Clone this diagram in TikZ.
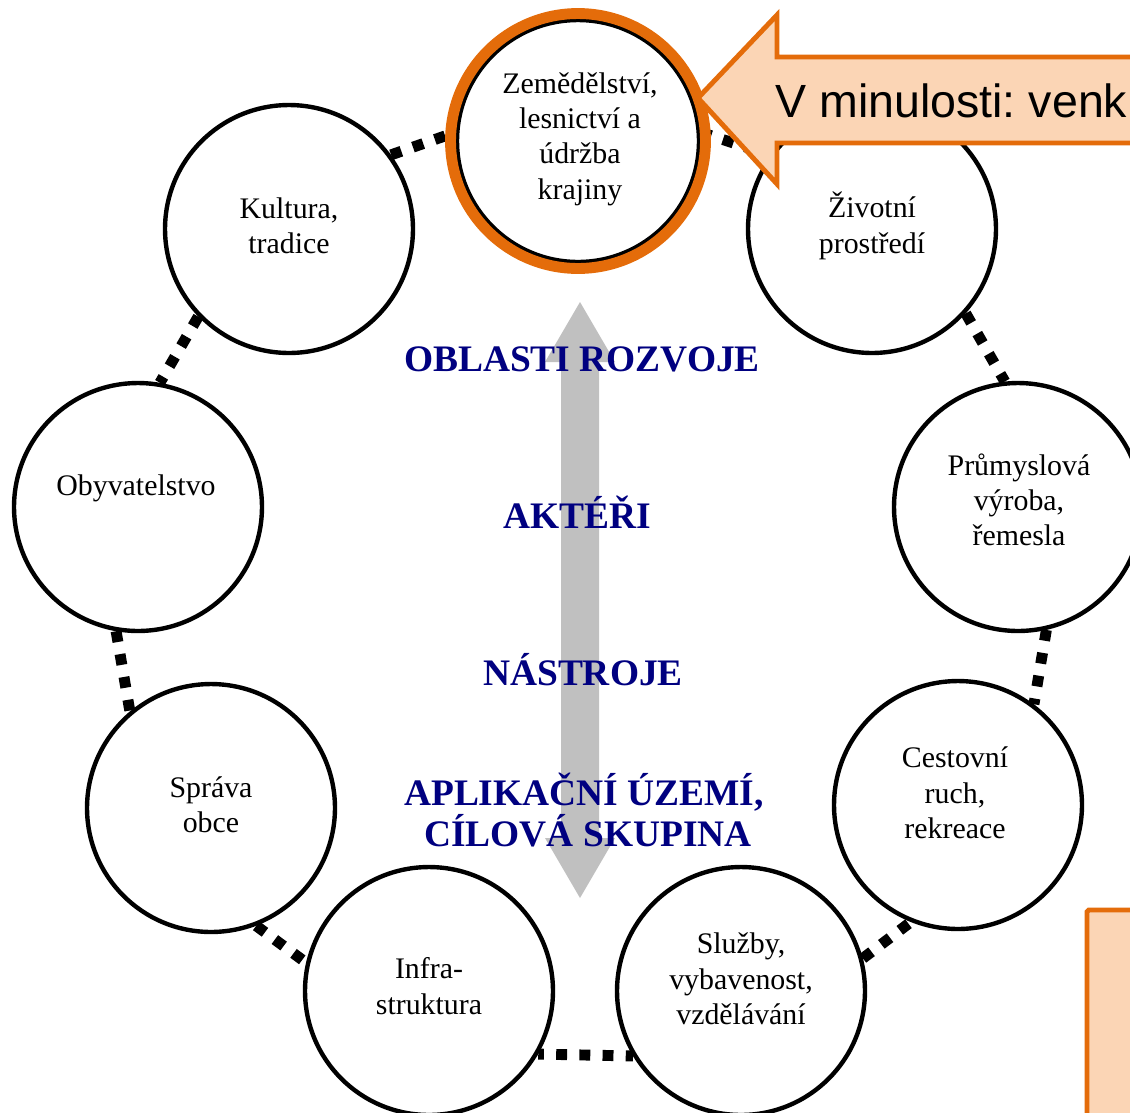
\documentclass[tikz,border=0pt]{standalone}
\usepackage{fontspec}
\setmainfont{Liberation Serif}
\newfontfamily\calloutfont{Liberation Sans}
\usetikzlibrary{positioning}
\frenchspacing

\definecolor{calloutorange}{HTML}{E46C0A}
\definecolor{calloutfill}{HTML}{FBD5B5}
\definecolor{arrowgray}{HTML}{C0C0C0}
\definecolor{labelnavy}{HTML}{000080}

\begin{document}
\begin{tikzpicture}[x=0.02cm, y=-0.02cm,
    bubtext/.style={align=center, inner sep=0pt, font=\fontsize{17}{20.1}\selectfont},
    heading/.style={anchor=base, inner sep=0pt, text=labelnavy, font=\bfseries\fontsize{21.3}{24}\selectfont},
    dotring/.style={line width=6.2pt, dash pattern=on 6.2pt off 7pt}]
  \clip (0,0) rectangle (1130,1113);

  % grey double arrow behind the headings
  \fill[arrowgray] (580,302) -- (615,362) -- (599,362) -- (599,838) -- (615,838)
    -- (580,898) -- (545,838) -- (561,838) -- (561,362) -- (545,362) -- cycle;

  \node[heading] (oblasti) at (582,371) {OBLASTI ROZVOJE};
  \node[heading] (akteri) at (577,528) {AKTÉŘI};
  \node[heading] (nastroje) at (583,685) {NÁSTROJE};
  \node[heading] (aplik) at (584,805) {APLIKAČNÍ ÚZEMÍ,};
  \node[heading] (cilova) at (588,846) {CÍLOVÁ SKUPINA};

  \begin{scope}[every node/.style={circle, draw, line width=2.5pt, minimum size=4.96cm, inner sep=0pt}]
    \node (zem) [minimum size=4.84cm] at (578,141) {};
    \node (kultura) at (289,229) {};
    \node (zivot) at (872,229) {};
    \node (obyv) at (138,507) {};
    \node (prum) at (1018,507) {};
    \node (sprava) at (211,808) {};
    \node (cest) at (958,805) {};
    \node (infra) at (429,991) {};
    \node (sluzby) at (741,991) {};
  \end{scope}

  \node[bubtext] (zem-t) at (580,139) {Zemědělství,\\lesnictví a\\údržba\\krajiny};
  \node[bubtext] (kultura-t) at (289,226) {Kultura,\\tradice};
  \node[bubtext] (zivot-t) at (872,226) {Životní\\prostředí};
  \node[bubtext] (obyv-t) at (136,488) {Obyvatelstvo};
  \node[bubtext] (prum-t) at (1019,500) {Průmyslová\\výroba,\\řemesla};
  \node[bubtext] (sprava-t) at (211,805) {Správa\\obce};
  \node[bubtext] (cest-t) at (955,793) {Cestovní\\ruch,\\rekreace};
  \node[bubtext] (infra-t) at (429,986) {Infra-\\struktura};
  \node[bubtext] (sluzby-t) at (741,979) {Služby,\\vybavenost,\\vzdělávání};

  % dotted ring between neighbours
  \begin{scope}[dotring]
    \path (kultura.36) edge (zem.176);
    \path (zem.4) edge (zivot.144);
    \path (kultura.224) edge (obyv.80);
    \path (zivot.-42) edge (prum.96);
    \path (obyv.260) edge (sprava.130);
    \path (prum.-77) edge (cest.53);
    \path (sprava.-69) edge (infra.167);
    \path (infra.-30) edge[dash phase=3pt] (sluzby.-149);
    \path (sluzby.15) edge (cest.-112);
  \end{scope}

  \node (zem-ring) [circle, draw=calloutorange, line width=6.2pt, minimum size=5.1cm] at (zem) {};

  % callout
  \draw[calloutorange, fill=calloutfill, line width=2.8pt] (698,98) -- (777,15) -- (777,57)
    -- (1150,57) -- (1150,143) -- (777,143) -- (777,184) -- cycle;
  \node (past) [anchor=base west, inner sep=0pt, font=\calloutfont\fontsize{26.5}{30}\selectfont] at (775,117) {V minulosti: venk};

  \draw[calloutorange, fill=calloutfill, line width=2.8pt, rounded corners=1pt] (1087,910) rectangle (1160,1140);
\end{tikzpicture}
\end{document}
